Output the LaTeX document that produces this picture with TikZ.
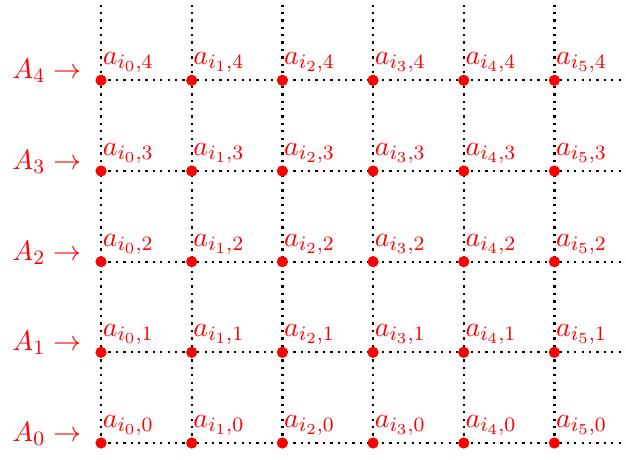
\documentclass[tikz,border=0pt]{standalone}
\begin{document}
\begin{tikzpicture}[x=1.25cm,y=1.25cm,
  gridline/.style={dotted,line width=0.9pt,black},
  dot/.style={circle,fill=red,draw=none,inner sep=0pt,minimum size=4.4pt},
  txt/.style={text=red,inner sep=0pt,font=\fontsize{10.95pt}{13.6pt}\selectfont},
  lab/.style={txt,anchor=base west,xshift=0.5pt,yshift=6.1pt},
  rowlab/.style={txt,anchor=base east,xshift=-7.6pt,yshift=0.6pt}]
\useasboundingbox (-1.1144,-0.1765) rectangle (5.790,4.886);
\foreach \i in {0,...,5}{
  \coordinate (top-\i) at (\i,4.886);
  \foreach \j in {0,...,4}{\coordinate (p-\i-\j) at (\i,\j);}
}
\foreach \j in {0,...,4}{\coordinate (right-\j) at (5.790,\j);}
% grid lines
\foreach \i in {0,...,5}{\draw[gridline] (p-\i-0) -- (top-\i);}
\foreach \j in {0,...,4}{\draw[gridline] (p-0-\j) -- (right-\j);}
% dots and labels
\foreach \i in {0,...,5}{
  \foreach \j in {0,...,4}{
    \node[dot] (d-\i-\j) at (p-\i-\j) {};
    \node[lab] (l-\i-\j) at (p-\i-\j) {$a_{i_{\i},\j}$};
  }
}
\foreach \j in {0,...,4}{
  \node[rowlab] (r-\j) at (p-0-\j) {$A_{\j}\rightarrow$};
}
\end{tikzpicture}
\end{document}
